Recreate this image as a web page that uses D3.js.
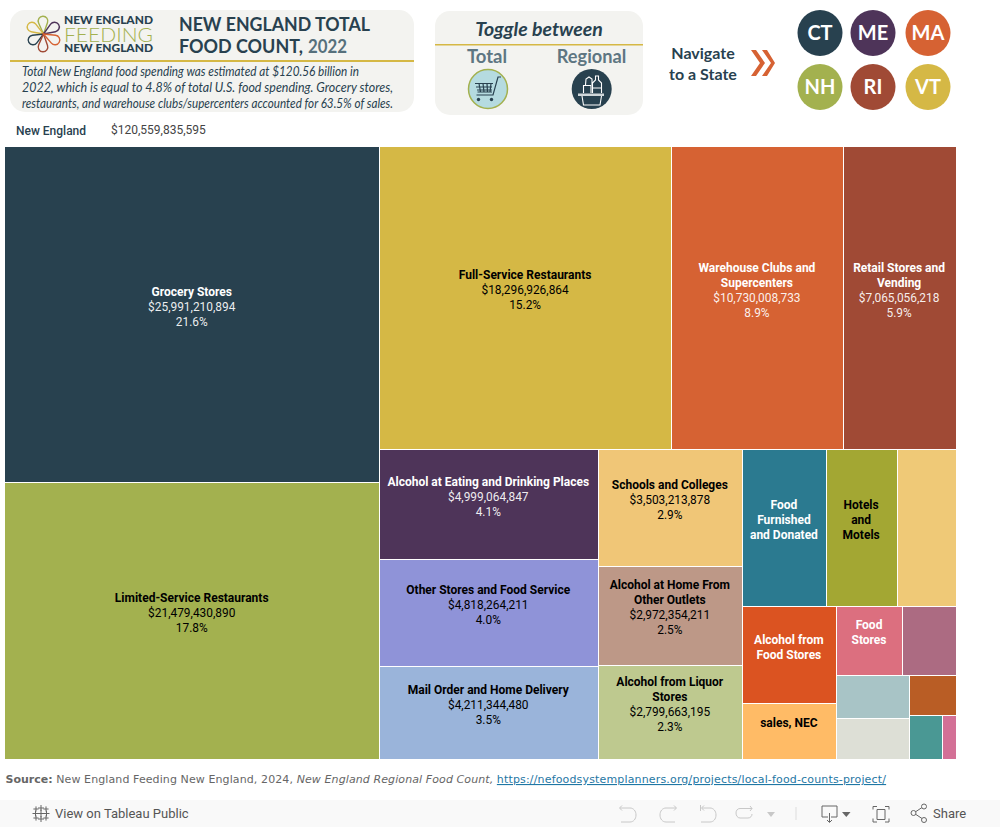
<!DOCTYPE html>
<html><head><meta charset="utf-8">
<script src="https://cdn.jsdelivr.net/npm/d3@7"></script>
<style>html,body{margin:0;padding:0;background:#fff}svg{display:block}</style>
</head><body><svg id="c" width="1000" height="827"></svg>
<script>
// Sector values (dollars): named ones as printed, unlabeled ones
const colLeft = [
  {k:"Grocery Stores", v:25991210894, c:"#28414f", w:1, l:["Grocery Stores"], m:"$25,991,210,894", p:"21.6%"},
  {k:"Limited-Service Restaurants", v:21479430890, c:"#a3b14f", w:0, l:["Limited-Service Restaurants"], m:"$21,479,430,890", p:"17.8%"}
];
const rowTop = [
  {k:"Full-Service Restaurants", v:18296926864, c:"#d5b845", w:0, l:["Full-Service Restaurants"], m:"$18,296,926,864", p:"15.2%"},
  {k:"Warehouse Clubs and Supercenters", v:10730008733, c:"#d66233", w:1, l:["Warehouse Clubs and","Supercenters"], m:"$10,730,008,733", p:"8.9%"},
  {k:"Retail Stores and Vending", v:7065056218, c:"#a04a35", w:1, l:["Retail Stores and","Vending"], m:"$7,065,056,218", p:"5.9%"}
];
const colA = [
  {k:"Alcohol at Eating and Drinking Places", v:4999064847, c:"#4e3459", w:1, l:["Alcohol at Eating and Drinking Places"], m:"$4,999,064,847", p:"4.1%"},
  {k:"Other Stores and Food Service", v:4818264211, c:"#8f93d8", w:0, l:["Other Stores and Food Service"], m:"$4,818,264,211", p:"4.0%"},
  {k:"Mail Order and Home Delivery", v:4211344480, c:"#9ab4da", w:0, l:["Mail Order and Home Delivery"], m:"$4,211,344,480", p:"3.5%"}
];
const colB = [
  {k:"Schools and Colleges", v:3503213878, c:"#f0c677", w:0, l:["Schools and Colleges"], m:"$3,503,213,878", p:"2.9%"},
  {k:"Alcohol at Home From Other Outlets", v:2972354211, c:"#bd9887", w:0, l:["Alcohol at Home From","Other Outlets"], m:"$2,972,354,211", p:"2.5%"},
  {k:"Alcohol from Liquor Stores", v:2799663195, c:"#bec98f", w:0, l:["Alcohol from Liquor","Stores"], m:"$2,799,663,195", p:"2.3%"}
];
const rowC = [
  {k:"Food Furnished and Donated", v:2725000000, c:"#2b7a90", w:1, l:["Food","Furnished","and Donated"]},
  {k:"Hotels and Motels", v:2305000000, c:"#a3a733", w:0, l:["Hotels","and","Motels"]},
  {k:"Unlabeled 1", v:1920000000, c:"#efc977", w:0, l:[]}
];
const colD = [
  {k:"Alcohol from Food Stores", v:1883000000, c:"#db5321", w:1, l:["Alcohol from","Food Stores"]},
  {k:"sales, NEC", v:1077000000, c:"#ffbb66", w:0, l:["sales, NEC"]}
];
const rowE = [
  {k:"Food Stores", v:950000000, c:"#dc6f7f", w:1, l:["Food","Stores"]},
  {k:"Unlabeled 2", v:760000000, c:"#ac6b82", w:0, l:[]}
];
const colF = [
  {k:"Unlabeled 3", v:655000000, c:"#a8c4c6", w:0, l:[]},
  {k:"Unlabeled 4", v:620000000, c:"#dddfd6", w:0, l:[]}
];
const colG = [{k:"Unlabeled 5", v:385000000, c:"#b95d25", w:0, l:[]}];
const rowH = [
  {k:"Unlabeled 6", v:295000000, c:"#4a9894", w:0, l:[]},
  {k:"Unlabeled 7", v:120000000, c:"#d37096", w:0, l:[]}
];
const stateCodes = ["CT","ME","MA","NH","RI","VT"];
const stateColors = ["#28414f","#4e3459","#d66233","#a3b14f","#a04a35","#d5b845"];
const summary = "$120,559,835,595";

const tree = {children:[
  {children:colLeft},
  {children:[
    {children:rowTop},
    {children:[
      {children:colA},
      {children:colB},
      {children:[
        {children:rowC},
        {children:[
          {children:colD},
          {children:[
            {children:rowE},
            {children:[
              {children:colF},
              {children:[...colG,{children:rowH}]}
            ]}
          ]}
        ]}
      ]}
    ]}
  ]}
]};

const svg = d3.select("#c");
const dark = "#28414f", head = "Lato, sans-serif", ui = "Roboto, sans-serif";
function txt(g,x,y,s,size,fill,o={}){
  const t=g.append("text").attr("x",x).attr("y",y).attr("font-size",size).attr("fill",fill)
    .attr("font-family",o.font||head).attr("font-weight",o.weight||400).attr("text-anchor",o.anchor||"start");
  if(o.italic)t.attr("font-style","italic");
  if(o.len)t.attr("textLength",o.len).attr("lengthAdjust","spacingAndGlyphs");
  t.text(s);return t;
}

// Treemap
const W=951,H=612;
const root = d3.hierarchy(tree).sum(d=>d.v||0);
d3.treemap().size([W,H]).tile(d3.treemapSliceDice)(root);
const plot = svg.append("g").attr("transform","translate(5,147)");
const cell = plot.selectAll("g").data(root.leaves()).join("g");
const lo=v=>v<=0?0:Math.floor(v)+1, hi=(v,m)=>v>=m-0.01?m:Math.floor(v);
cell.append("rect").attr("x",d=>lo(d.x0)).attr("y",d=>lo(d.y0))
  .attr("width",d=>hi(d.x1,W)-lo(d.x0)).attr("height",d=>hi(d.y1,H)-lo(d.y0))
  .attr("fill",d=>d.data.c);
const lh=15;
cell.each(function(d){
  const b=d.data; if(!b.l.length)return;
  const lines=b.l.map(s=>({s,bold:1}));
  if(b.m)lines.push({s:b.m},{s:b.p});
  const cx=(d.x0+d.x1)/2, cy=(d.y0+d.y1)/2;
  const top=cy-(lines.length+1)*lh/2;
  const col=b.w?"#fff":"#000";
  lines.forEach((ln,i)=>{
    d3.select(this).append("text").attr("x",cx-0.5).attr("y",top+i*lh+lh/2+3.6)
      .attr("text-anchor","middle").attr("font-family",ui).attr("font-size",ln.bold?12:11.9)
      .attr("font-weight",ln.bold?700:400).attr("fill",col).attr("fill-opacity",b.w&&!ln.bold?0.92:1).text(ln.s);
  });
});

// Summary row
const s0=svg.append("g");
txt(s0,16,135,"New England",12,dark,{font:ui,weight:500});
txt(s0,111,134,summary,12,"#444",{font:ui});

// Title panel
const h=svg.append("g");
h.append("rect").attr("x",10).attr("y",10).attr("width",404).attr("height",102).attr("rx",15).attr("fill","#f3f3f0");
h.append("rect").attr("x",10).attr("y",60).attr("width",404).attr("height",2).attr("fill","#d5b845");
const hub=[43.5,34];
[[43,21,"#a3b14f"],[32,27,"#d5b845"],[54.5,27,"#4e3459"],[33,40,"#28414f"],[43,47,"#a04a35"],[55,40,"#d66233"]].forEach(a=>{
  const r=4.8, dx=a[0]-hub[0], dy=a[1]-hub[1], d=Math.hypot(dx,dy), base=Math.atan2(-dy,-dx), off=Math.acos(r/d);
  const p1=[a[0]+r*Math.cos(base+off),a[1]+r*Math.sin(base+off)], p2=[a[0]+r*Math.cos(base-off),a[1]+r*Math.sin(base-off)];
  h.append("path").attr("d",`M${hub}L${p1}A${r} ${r} 0 1 1 ${p2}Z`).attr("fill","none").attr("stroke",a[2]).attr("stroke-width",1.4);
});
txt(h,64,24,"NEW ENGLAND",11.5,dark,{weight:900,len:89});
txt(h,64,42,"FEEDING",20,"#a3b14f",{weight:300,len:89});
txt(h,64,52,"NEW ENGLAND",11.5,dark,{weight:900,len:89});
txt(h,179,31,"NEW ENGLAND TOTAL",19,dark,{weight:700,len:191});
txt(h,179,53,"FOOD COUNT,",19,dark,{weight:700,len:124});
txt(h,308,53,"2022",19,"#56707c",{weight:700,len:39});
const para=["Total New England food spending was estimated at $120.56 billion in",
 "2022, which is equal to 4.8% of total U.S. food spending. Grocery stores,",
 "restaurants, and warehouse clubs/supercenters accounted for 63.5% of sales."];
const paraW=[337,371,371];
para.forEach((s,i)=>txt(h,22,76+i*16,s,12.5,dark,{italic:1,len:paraW[i]}));

// Toggle panel
const t=svg.append("g");
t.append("rect").attr("x",435).attr("y",11).attr("width",208).attr("height",104).attr("rx",15).attr("fill","#f3f3f0");
t.append("rect").attr("x",435).attr("y",44).attr("width",208).attr("height",1.5).attr("fill","#d5b845");
txt(t,539,36,"Toggle between",19.5,dark,{italic:1,weight:700,anchor:"middle"});
txt(t,487,63,"Total",18.5,"#5e7682",{weight:700,anchor:"middle"});
txt(t,591.5,63,"Regional",18.2,"#5e7682",{weight:700,anchor:"middle"});
t.append("circle").attr("cx",488).attr("cy",89).attr("r",19.5).attr("fill","#b5dbe0").attr("stroke","#a3b14f").attr("stroke-width",1.5);
t.append("path").attr("d","M501 77h-3l-5 18h-16.5M475 83.5h18M476 87h16M477 90h15M477.5 92h14.5M479 83.5l1.5 8.5M483 83.5l1 8.5M487 83.5l.5 8.5M491 83.5l-1 8.5")
  .attr("fill","none").attr("stroke",dark).attr("stroke-width",1.2);
t.append("circle").attr("cx",478.5).attr("cy",99.5).attr("r",1.7).attr("fill",dark);
t.append("circle").attr("cx",491.5).attr("cy",99.5).attr("r",1.7).attr("fill",dark);
t.append("circle").attr("cx",591.7).attr("cy",89).attr("r",20).attr("fill",dark);
t.append("rect").attr("x",578).attr("y",93.5).attr("width",26).attr("height",2.5).attr("fill","#cfd6d9");
t.append("path").attr("d","M582 96l1.5 9h16.5l1.5-9M583.5 93v-7.5h7.5v7.5M585.5 85l.5-6 3-2 3 2v6M592.5 93v-10l3-3v-4h3v4l3 3v10M592.5 88h9")
  .attr("fill","none").attr("stroke","#fff").attr("stroke-width",1.1);

// Navigate
const n=svg.append("g");
txt(n,703,59,"Navigate",16,dark,{weight:700,anchor:"middle"});
txt(n,703,80,"to a State",16,dark,{weight:700,anchor:"middle"});
n.append("path").attr("d","M751 50l9 13-9 13h5l9-13-9-13zM762 50l9 13-9 13h5l8-13-8-13z").attr("fill","#d66233");
stateCodes.forEach((c,i)=>{
  const x=[820,873,928][i%3], y=i<3?33:87;
  n.append("ellipse").attr("cx",x).attr("cy",y).attr("rx",22.5).attr("ry",23).attr("fill",stateColors[i]);
  txt(n,x,y+7,c,20,"#fff",{weight:700,anchor:"middle"});
});

// Source
const f=svg.append("g");
const src=f.append("text").attr("x",5.5).attr("y",783).attr("font-family","'DejaVu Sans',sans-serif").attr("font-size",11).attr("fill","#666");
src.append("tspan").attr("font-weight",700).text("Source:");
src.append("tspan").attr("letter-spacing",0.1).text(" New England Feeding New England, 2024, ");
src.append("tspan").attr("letter-spacing",0.1).attr("font-style","italic").text("New England Regional Food Count,");
src.append("tspan").text(" ");
src.append("tspan").attr("letter-spacing",0.16).attr("fill","#1f77a4").attr("text-decoration","underline").text("https://nefoodsystemplanners.org/projects/local-food-counts-project/");

// Viewer toolbar
const b=svg.append("g");
b.append("rect").attr("x",0).attr("y",800).attr("width",1000).attr("height",27).attr("fill","#f9f9f9");
const tg="#666";
[[41,808,1],[41,819,1],[35.5,813.5,1],[46.5,813.5,1],[41,813.5,2],[36,809,.6],[46,809,.6],[36,818,.6],[46,818,.6]].forEach(a=>{
  const r=2+a[2]; 
  b.append("path").attr("d",`M${a[0]-r} ${a[1]}h${2*r}M${a[0]} ${a[1]-r}v${2*r}`).attr("stroke",tg).attr("stroke-width",1).attr("fill","none");
});
txt(b,55,818,"View on Tableau Public",13,"#555",{font:ui});
const dim="#c8c8c8";
const ic=(d,c=dim)=>b.append("path").attr("d",d).attr("fill","none").attr("stroke",c).attr("stroke-width",1);
ic("M622 805.5l-2.5 2.5 2.5 2.5M620 808h10c3.5 0 6 3 6 7s-2.5 7-6 7h-9");
ic("M674 805.5l2.5 2.5-2.5 2.5M676 808h-10c-3.5 0-6 3-6 7s2.5 7 6 7h9");
ic("M700.5 805v6M704 805.5l-2.5 2.5 2.5 2.5M702 808h8c3.5 0 6 3 6 7s-2.5 7-6 7h-9");
ic("M750 806l2 2.5-2 2.5M752 808.5h-12c-2.5 0-4 2-4 4.5s1.5 5 4 5h8c2.5 0 4-2 4-4");
b.append("path").attr("d","M767 812h8l-4 5z").attr("fill",dim);
b.append("line").attr("x1",796).attr("y1",807).attr("x2",796).attr("y2",820).attr("stroke","#ddd");
ic("M828 817h-6v-11h15v11h-6",tg);
ic("M829.5 813v9M827 820l2.5 2.5 2.5-2.5",tg);
b.append("path").attr("d","M842 812h8.5l-4.2 5z").attr("fill",tg);
ic("M877 806.5h-4v3M885 806.5h4v3M873 818.5v3.5h4M889 818.5v3.5h-4M877 809.5h8v10h-8z",tg);
ic("M916 811.5l6-4M916 814.5l6 4",tg);
[[913.5,813],[924,806.5],[924,820]].forEach(a=>b.append("circle").attr("cx",a[0]).attr("cy",a[1]).attr("r",2.5).attr("fill","#f9f9f9").attr("stroke",tg).attr("stroke-width",1));
txt(b,933,818,"Share",13,"#555",{font:ui});
</script></body></html>
